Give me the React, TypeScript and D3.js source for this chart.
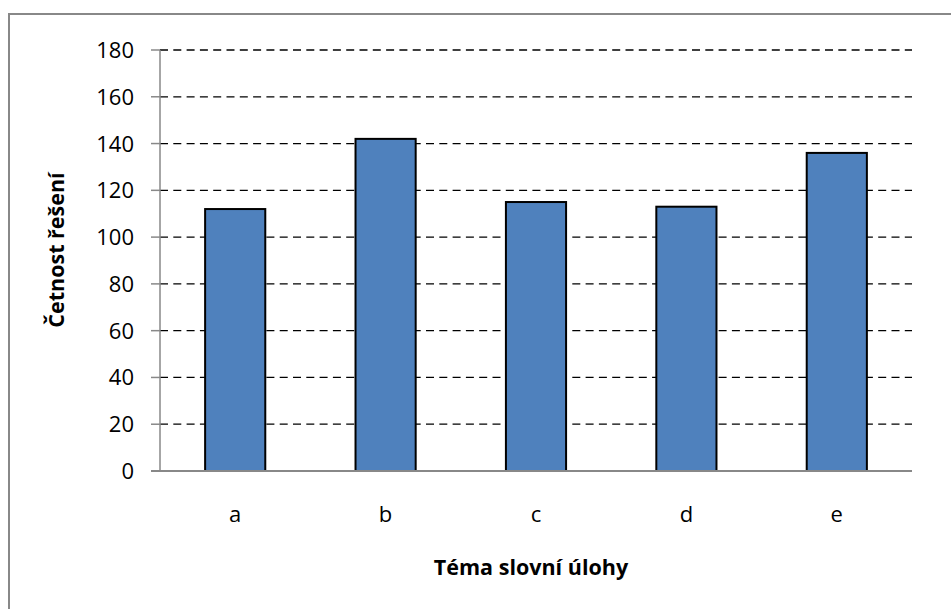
import React from "react";
import * as d3 from "d3";

const categories = ["a", "b", "c", "d", "e"];
const values = [112, 142, 115, 113, 136];
const yTicks = [0, 20, 40, 60, 80, 100, 120, 140, 160, 180];
const xTitle = "Téma slovní úlohy";
const yTitle = "Četnost řešení";

export default function App() {
  const W = 951, H = 609;
  const left = 160, right = 912, top = 50, bottom = 471;
  const x = d3.scaleBand<string>().domain(categories).range([left, right]).paddingInner(0.6).paddingOuter(0.3);
  const y = d3.scaleLinear().domain([0, 180]).range([bottom, top]);
  const font = "'Open Sans', sans-serif";
  return (
    <svg width={W} height={H} style={{ position: "absolute", left: 0, top: 0, background: "#fff" }}>
      <rect x={0} y={0} width={W} height={H} fill="#fff" />
      <path d={`M9,${H + 5} L9,14 L${W + 5},14`} fill="none" stroke="#888" strokeWidth={2} />
      {yTicks.map((t) => (
        <g key={t}>
          {t > 0 && (
            <line x1={left} x2={right} y1={y(t)} y2={y(t)} stroke="#000" strokeWidth={1.3} strokeDasharray="8,5.3" />
          )}
          <line x1={151} x2={left} y1={y(t)} y2={y(t)} stroke="#888" strokeWidth={1.5} />
          <text x={134} y={y(t) + 8} textAnchor="end" fontFamily={font} fontSize={22} fill="#000">
            {t}
          </text>
        </g>
      ))}
      <line x1={left} x2={left} y1={top} y2={bottom} stroke="#888" strokeWidth={1.5} />
      {categories.map((c, i) => (
        <rect key={c} x={x(c)!} y={y(values[i])} width={x.bandwidth()} height={y(0) - y(values[i])} fill="#4F81BD" stroke="#000" strokeWidth={2} />
      ))}
      <line x1={151} x2={right} y1={bottom} y2={bottom} stroke="#888" strokeWidth={2} />
      {categories.map((c) => (
        <text key={c} x={x(c)! + x.bandwidth() / 2} y={522} textAnchor="middle" fontFamily={font} fontSize={22} fill="#000">
          {c}
        </text>
      ))}
      <text x={531} y={575} textAnchor="middle" fontFamily={font} fontSize={21.5} fontWeight="bold" fill="#000">
        {xTitle}
      </text>
      <text transform={`translate(64,250) rotate(-90)`} textAnchor="middle" fontFamily={font} fontSize={21.5} fontWeight="bold" fill="#000">
        {yTitle}
      </text>
    </svg>
  );
}
